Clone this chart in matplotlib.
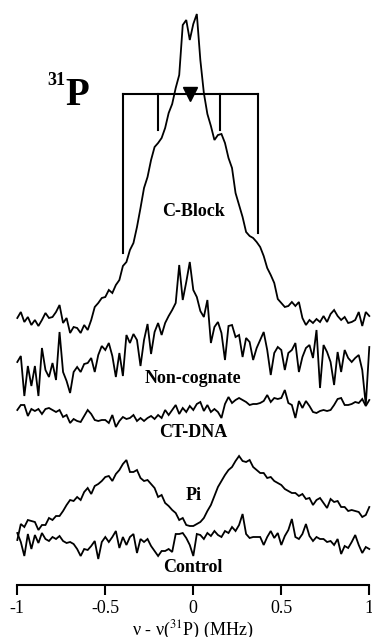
import numpy as np
import matplotlib
matplotlib.use('Agg')
import matplotlib.pyplot as plt

plt.rcParams['font.family'] = ['Liberation Serif', 'DejaVu Serif']
plt.rcParams['mathtext.fontset'] = 'stix'

# frequency axis (MHz), 0.02 MHz steps
freq = np.linspace(-1.0, 1.0, 101)

c_block = [2, 8, -2, 3, -5, 0, -6, 0, 7, 2,
           3, 8, 15, -3, 2, -13, -7, -8, -13, -5,
           -10, 0, 13, 17, 22, 23, 30, 27, 35, 40,
           54, 58, 70, 77, 93, 112, 132, 143, 160, 173,
           177, 182, 192, 207, 216, 232, 245, 295, 300, 280,
           296, 306, 260, 227, 206, 194, 180, 185, 186, 177,
           162, 152, 127, 115, 103, 88, 84, 82, 78, 73,
           64, 52, 45, 37, 21, 17, 13, 14, 18, 14,
           18, 2, -5, 0, -3, 1, -2, 4, -2, 6,
           10, 4, 0, 3, -3, -2, 0, 8, -6, 8,
           4]

non_cognate = [-2, 4, -36, -6, -26, -6, -36, 12, -10, -17,
               -3, -20, 28, -12, -21, -33, -12, -7, -12, -4,
               -3, 2, -12, 5, 14, 10, 17, 4, -17, 7,
               -16, 25, 17, 26, 20, -6, 20, 36, 6, 28,
               37, 25, 37, 44, 50, 57, 95, 60, 78, 98,
               70, 63, 49, 43, 60, 17, 33, 38, 27, 0,
               34, 35, 23, 25, 3, 22, 18, 0, 12, 20,
               28, 10, -15, 7, 13, 10, -10, 7, 10, 17,
               -12, 3, 12, 15, 2, 30, -28, 15, 8, -2,
               -25, 8, -12, 10, 2, -2, 2, 5, -10, -45,
               13]

ct_dna = [0, 5, 5, -6, 1, -1, 1, -4, 1, 2,
          0, -2, 0, -7, -5, -13, -9, -11, -12, -6,
          0, -4, -10, -11, -10, -10, -13, -5, -17, -11,
          -7, -9, -8, -5, -11, -8, -11, -8, -6, -9,
          -5, -8, 0, -5, 0, 5, -4, 2, -2, 4,
          0, 6, 8, -1, 5, -2, 1, -2, -8, 6,
          13, 7, 10, 12, 10, 8, 5, 6, 6, 7,
          9, 15, 8, 12, 11, 12, 20, 7, 5, -8,
          9, 2, 9, 4, -2, -3, -1, 0, -1, 0,
          5, 11, 12, 5, 5, 6, 8, 7, 11, 4,
          10]

pi = [-10, 6, 3, 10, 9, 8, 0, 5, 5, 12,
      10, 14, 14, 19, 25, 30, 29, 33, 30, 38,
      42, 36, 44, 46, 49, 53, 54, 49, 56, 60,
      66, 70, 58, 58, 60, 52, 49, 50, 46, 42,
      33, 35, 27, 24, 20, 17, 10, 12, 5, 4,
      4, 6, 8, 12, 19, 25, 34, 43, 49, 55,
      60, 63, 69, 74, 69, 68, 70, 63, 60, 57,
      57, 52, 53, 49, 47, 45, 41, 39, 37, 37,
      34, 36, 31, 32, 25, 30, 32, 27, 22, 31,
      28, 29, 23, 23, 19, 20, 19, 18, 13, 15,
      23]

control = [7, -2, -16, 6, -9, 5, -3, 7, 1, -1,
           3, 1, 4, -1, -3, -2, -4, -9, -16, -9,
           -10, -6, -1, -19, -2, 3, -2, 3, 9, -8,
           3, -5, 3, 6, -13, 1, -2, 1, -6, -11,
           -16, -11, -11, -9, -12, 6, 6, 7, 2, -5,
           -16, 6, 5, 1, 7, 4, 9, 5, 3, 9,
           7, 13, 9, 15, 26, 6, 2, 3, 3, 3,
           -5, 3, 9, 2, 7, -5, 4, 10, 21, 3,
           1, 6, 16, 4, -1, 3, 1, 1, -2, -1,
           -5, 1, -14, -6, -8, -2, 5, -5, -13, -7,
           -9]

series = [c_block, non_cognate, ct_dna, pi, control]
labels = ['C-Block', 'Non-cognate', 'CT-DNA', 'Pi', 'Control']
offsets = [265, 225, 175, 55, 45]
label_y = [369, 202, 148, 85, 13]

tick_values = [-1, -0.5, 0, 0.5, 1]
tick_labels = ['-1', '-0.5', '0', '0.5', '1']

# splitting pattern marks (MHz)
outer_lines = [-0.40, 0.365]
inner_lines = [-0.20, 0.15]
center_mark = -0.02

fig = plt.figure(figsize=(3.72, 6.37), dpi=100)
ax = fig.add_axes([17.3 / 372, 52 / 637, 352 / 372, 585 / 637])

for vals, off in zip(series, offsets):
    ax.plot(freq, np.asarray(vals) + off, color='black', lw=1.3,
            solid_joinstyle='miter', clip_on=False)

for lab, ly in zip(labels, label_y):
    ax.text(0.0, ly, lab, ha='center', va='baseline', fontsize=13,
            fontweight='bold')

# bracket
bar_y = 491
ax.plot([outer_lines[0], outer_lines[1]], [bar_y, bar_y], color='black', lw=1.5)
ax.plot([outer_lines[0], outer_lines[0]], [bar_y, 332], color='black', lw=1.5)
ax.plot([outer_lines[1], outer_lines[1]], [bar_y, 352], color='black', lw=1.5)
for xi in inner_lines:
    ax.plot([xi, xi], [bar_y, 455], color='black', lw=1.5)
ax.plot([center_mark], [bar_y], marker='v', color='black', markersize=9.5,
        linestyle='none')

ax.text(-0.729, 480, 'P', fontsize=28, fontweight='bold', ha='left', va='baseline')
ax.text(-0.831, 500, '31', fontsize=13, fontweight='bold', ha='left', va='baseline')

ax.set_xlim(-1, 1)
ax.set_ylim(0, 585)
ax.set_xticks(tick_values, tick_labels)
ax.set_yticks([])
for s in ['left', 'right', 'top']:
    ax.spines[s].set_visible(False)
ax.spines['bottom'].set_linewidth(1.5)
ax.tick_params(axis='x', direction='out', length=7.5, width=1.5,
               labelsize=13, pad=3)
ax.set_xlabel(r'ν - ν($^{31}$P) (MHz)', fontsize=13, labelpad=2)
ax.patch.set_visible(False)

fig.savefig('out.png', dpi=100)
